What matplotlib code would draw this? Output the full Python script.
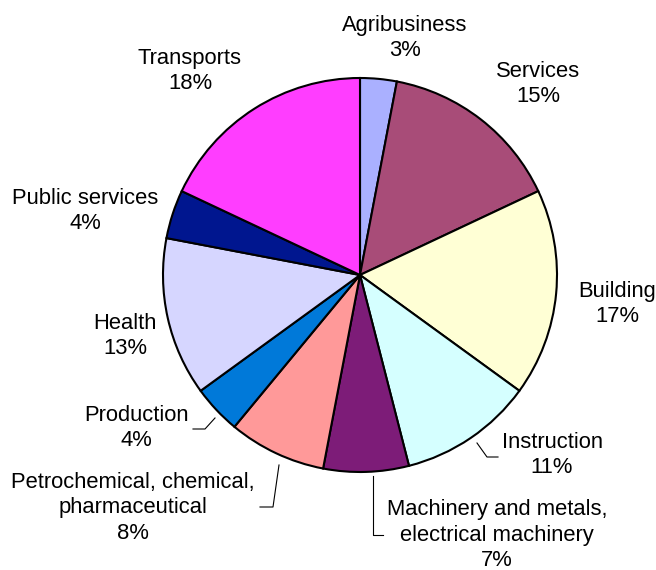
import matplotlib.pyplot as plt

plt.rcParams['font.family'] = ['Liberation Sans', 'DejaVu Sans']

# sectors, clockwise from 12 o'clock
sectors = ['Agribusiness', 'Services', 'Building', 'Instruction',
           'Machinery and metals,\nelectrical machinery',
           'Petrochemical, chemical,\npharmaceutical',
           'Production', 'Health', 'Public services', 'Transports']
shares = [3, 15, 17, 11, 7, 8, 4, 13, 4, 18]
colors = ['#AAB0FF', '#A84C78', '#FFFFD5', '#D5FFFF', '#7D1C78',
          '#FF9999', '#0079D9', '#D6D6FF', '#00168F', '#FF3DFF']

# label block centres in pixels (from top-left)
label_pos = [(405, 38), (538, 84), (617, 304), (552, 455), (497, 535),
             (133, 508), (136, 428), (125, 336), (85, 211), (190, 71)]

W, H = 656, 570
fig = plt.figure(figsize=(W / 100, H / 100), dpi=100)
ax = fig.add_axes([0, 0, 1, 1])

ax.pie(shares, colors=colors, startangle=90, counterclock=False,
       center=(360, H - 275), radius=197,
       wedgeprops=dict(edgecolor='black', linewidth=1.5))
ax.set_xlim(0, W)
ax.set_ylim(0, H)
ax.set_aspect('equal')
ax.axis('off')

for name, pct, (x, y) in zip(sectors, shares, label_pos):
    ax.text(x, H - y, name + '\n' + str(pct) + '%', ha='center', va='center',
            fontsize=15.8, linespacing=1.3)

# leader lines
leaders = [
    [(477, 443), (487, 457), (498, 457)],
    [(373, 476), (373, 535), (383, 535)],
    [(279, 465), (273, 507), (260, 507)],
    [(215, 418), (205, 429), (193, 429)],
]
for pts in leaders:
    ax.plot([p[0] for p in pts], [H - p[1] for p in pts], color='black', lw=0.8)

fig.savefig('out.png', dpi=100)
